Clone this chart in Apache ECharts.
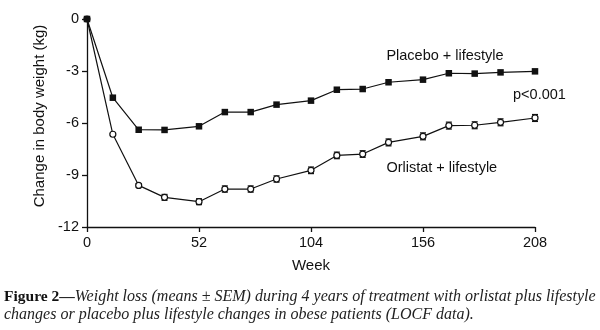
<!DOCTYPE html>
<html><head><meta charset="utf-8">
<script src="https://cdn.jsdelivr.net/npm/echarts@6/dist/echarts.min.js"></script>
<style>html,body{margin:0;padding:0;background:#fff}#c{width:600px;height:330px}</style>
</head><body><div id="c"></div>
<script>
const weeks = [0, 12, 24, 36, 52, 64, 76, 88, 104, 116, 128, 140, 156, 168, 180, 192, 208];
const placebo = [0, -4.54, -6.39, -6.4, -6.19, -5.37, -5.37, -4.94, -4.71, -4.08, -4.04, -3.65, -3.5, -3.13, -3.15, -3.08, -3.02];
const orlistat = [0, -6.65, -9.6, -10.29, -10.54, -9.81, -9.81, -9.23, -8.73, -7.87, -7.79, -7.12, -6.77, -6.15, -6.13, -5.96, -5.71];
const orlistatSem = [0, 0.05, 0.1, 0.17, 0.17, 0.18, 0.18, 0.18, 0.19, 0.19, 0.19, 0.2, 0.2, 0.2, 0.2, 0.2, 0.2];
const xTicks = [0, 52, 104, 156, 208];
const yTicks = [0, -3, -6, -9, -12];
const labels = { placebo: 'Placebo + lifestyle', orlistat: 'Orlistat + lifestyle', p: 'p<0.001' };
const captionBold = 'Figure 2—';
const captionLine1 = 'Weight loss (means ± SEM) during 4 years of treatment with orlistat plus lifestyle';
const captionLine2 = 'changes or placebo plus lifestyle changes in obese patients (LOCF data).';

const ink = '#111';
const sans = 'Liberation Sans, Arial, sans-serif';
const fs = 14.5;
const chart = echarts.init(document.getElementById('c'), null, { renderer: 'canvas' });

const errData = weeks.map((w, i) => [w, orlistat[i] - orlistatSem[i], orlistat[i] + orlistatSem[i]]);

chart.setOption({
  backgroundColor: '#fff',
  animation: false,
  grid: { left: 87, right: 65, top: 19, bottom: 103, containLabel: false },
  xAxis: {
    type: 'value', min: 0, max: 208, interval: 52,
    name: 'Week', nameLocation: 'middle', nameGap: 31,
    nameTextStyle: { color: ink, fontSize: 15, fontFamily: sans },
    axisLine: { show: true, onZero: false, lineStyle: { color: ink, width: 1.3 } },
    axisTick: { show: true, inside: false, length: 5, lineStyle: { color: ink, width: 1.3 } },
    axisLabel: { color: ink, fontSize: fs, fontFamily: sans, margin: 8,
      formatter: v => xTicks.includes(v) ? String(v) : '' },
    splitLine: { show: false }
  },
  yAxis: {
    type: 'value', min: -12, max: 0, interval: 3,
    name: 'Change in body weight (kg)', nameLocation: 'middle', nameGap: 36,
    nameTextStyle: { color: ink, fontSize: 15, fontFamily: sans, padding: [0, 0, 0, 14] },
    axisLine: { show: true, onZero: false, lineStyle: { color: ink, width: 1.3 } },
    axisTick: { show: true, inside: false, length: 5, lineStyle: { color: ink, width: 1.3 } },
    axisLabel: { color: ink, fontSize: fs, fontFamily: sans, margin: 8,
      formatter: v => yTicks.includes(v) ? String(v) : '' },
    splitLine: { show: false }
  },
  series: [
    {
      type: 'custom', name: 'err', z: 3,
      data: errData,
      renderItem: (params, api) => {
        const x = api.value(0);
        const lo = api.coord([x, api.value(1)]);
        const hi = api.coord([x, api.value(2)]);
        const cw = 3;
        const st = { stroke: ink, lineWidth: 1.2 };
        return { type: 'group', children: [
          { type: 'line', shape: { x1: lo[0], y1: lo[1], x2: hi[0], y2: hi[1] }, style: st },
          { type: 'line', shape: { x1: lo[0] - cw, y1: lo[1], x2: lo[0] + cw, y2: lo[1] }, style: st },
          { type: 'line', shape: { x1: hi[0] - cw, y1: hi[1], x2: hi[0] + cw, y2: hi[1] }, style: st }
        ]};
      }
    },
    {
      type: 'line', name: labels.orlistat, z: 4,
      data: weeks.map((w, i) => [w, orlistat[i]]),
      symbol: 'circle', symbolSize: 6,
      lineStyle: { color: ink, width: 1.2 },
      itemStyle: { color: '#fff', borderColor: ink, borderWidth: 1.2 }
    },
    {
      type: 'line', name: labels.placebo, z: 5,
      data: weeks.map((w, i) => [w, placebo[i]]),
      symbol: 'rect', symbolSize: 6.5,
      lineStyle: { color: ink, width: 1.2 },
      itemStyle: { color: ink, borderColor: ink, borderWidth: 0 }
    }
  ]
});

const p1 = chart.convertToPixel({ gridIndex: 0 }, [139, -2.19]);
const p2 = chart.convertToPixel({ gridIndex: 0 }, [197.8, -4.44]);
const p3 = chart.convertToPixel({ gridIndex: 0 }, [139, -8.62]);
const txt = { fill: ink, fontSize: fs, fontFamily: sans };
const off = 8;
chart.setOption({
  graphic: [
    { type: 'text', left: p1[0], top: p1[1] - off, style: Object.assign({ text: labels.placebo }, txt) },
    { type: 'text', left: p2[0], top: p2[1] - off, style: Object.assign({ text: labels.p }, txt) },
    { type: 'text', left: p3[0], top: p3[1] - off, style: Object.assign({ text: labels.orlistat }, txt) },
    { type: 'text', left: 4, top: 289, style: {
      text: '{b|' + captionBold + '}{i|' + captionLine1 + '}\n{i|' + captionLine2 + '}',
      rich: {
        b: { fontFamily: 'Liberation Serif, serif', fontWeight: 'bold', fontSize: 15.5, fill: ink, lineHeight: 18 },
        i: { fontFamily: 'Liberation Serif, serif', fontStyle: 'italic', fontSize: 16, fill: '#222', lineHeight: 18 }
      }
    }}
  ]
});
</script></body></html>
